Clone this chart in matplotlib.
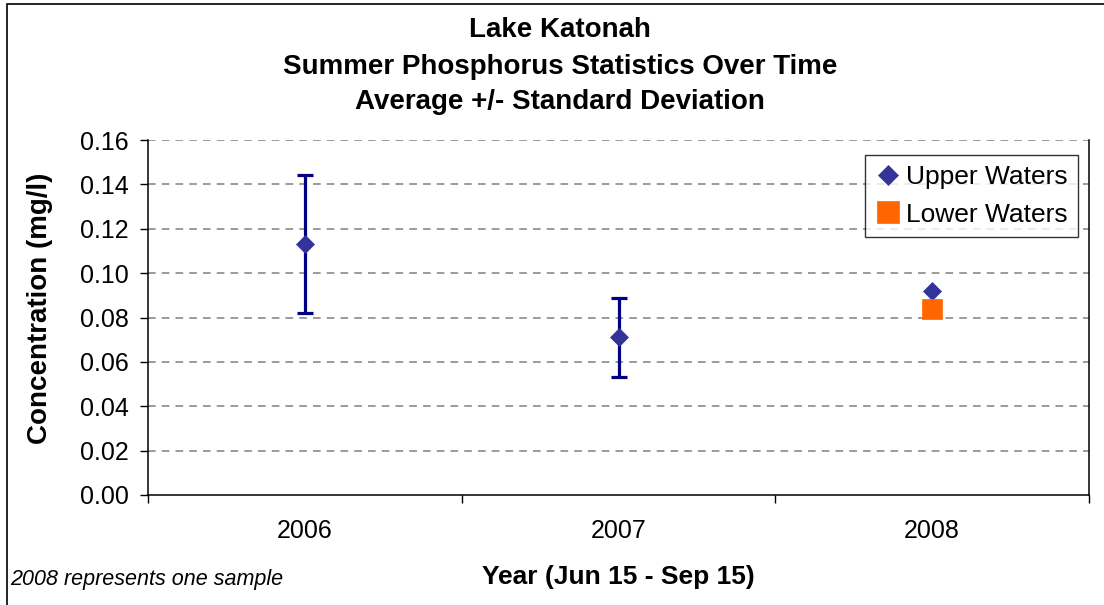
import numpy as np
import matplotlib
matplotlib.use("Agg")
import matplotlib.pyplot as plt
from matplotlib.patches import Rectangle

plt.rcParams['font.family'] = ['Liberation Sans', 'DejaVu Sans']

# ---- data ----
years = ['2006', '2007', '2008']
upper_mean = [0.113, 0.071, 0.092]
upper_sd = [0.031, 0.0176, 0.0]
lower_mean = [np.nan, np.nan, 0.084]
yticks = [0.00, 0.02, 0.04, 0.06, 0.08, 0.10, 0.12, 0.14, 0.16]
title_lines = ['Lake Katonah', 'Summer Phosphorus Statistics Over Time',
               'Average +/- Standard Deviation']

W, H = 1104, 605
fig = plt.figure(figsize=(W / 100, H / 100), dpi=100)
ax = fig.add_axes([148 / W, 1 - 495 / H, (1089 - 148) / W, (495 - 140) / H])

x = np.arange(len(years))
has_err = np.array(upper_sd) > 0
ax.errorbar(x[has_err], np.array(upper_mean)[has_err], yerr=np.array(upper_sd)[has_err],
            fmt='none', ecolor='#000080', elinewidth=2.3, capsize=6, capthick=2.3, zorder=3)
ax.plot(x, upper_mean, linestyle='none', marker='D', markersize=9.5, color='#333399',
        markeredgecolor='#333399', markeredgewidth=0.5, zorder=4, label='Upper Waters')
ax.plot(x, lower_mean, linestyle='none', marker='s', markersize=15, color='#FF6600',
        markeredgecolor='#FF6600', markeredgewidth=0.5, zorder=4, label='Lower Waters')

ax.set_xlim(-0.5, len(years) - 0.5)
ax.set_ylim(0, 0.16)
ax.set_yticks(yticks)
ax.set_yticklabels([f'{v:.2f}' for v in yticks], fontsize=18)
ax.set_xticks(x)
ax.set_xticklabels(years, fontsize=18)
ax.set_xticks(np.arange(-0.5, len(years)), minor=True)
ax.tick_params(axis='x', which='major', length=0, pad=17)
ax.tick_params(axis='x', which='minor', length=6, width=1, direction='out', color='black')
ax.tick_params(axis='y', length=6, width=1, direction='out', pad=8)

for v in yticks[1:]:
    ax.axhline(v, color='#808080', linewidth=1.1, linestyle=(0, (5, 4)), zorder=1)

for s in ['left', 'bottom', 'right']:
    ax.spines[s].set_color('black')
    ax.spines[s].set_linewidth(1.1)
ax.spines['top'].set_visible(False)

leg = ax.legend(loc='upper right', bbox_to_anchor=(0.9885, 0.958), borderaxespad=0,
                fontsize=19, frameon=True, fancybox=False, edgecolor='black',
                handlelength=0.9, handletextpad=0.25, labelspacing=0.5, borderpad=0.4,
                markerscale=1.05)
leg.get_frame().set_linewidth(1.0)

# titles
for line, yc in zip(title_lines, [30, 67, 102]):
    fig.text(560 / W, 1 - yc / H, line, ha='center', va='center', fontsize=20,
             fontweight='bold')

fig.text(40 / W, 1 - 308 / H, 'Concentration (mg/l)', rotation=90, ha='center',
         va='center', fontsize=20, fontweight='bold')
fig.text(618 / W, 1 - 577 / H, 'Year (Jun 15 - Sep 15)', ha='center', va='center',
         fontsize=19, fontweight='bold')
fig.text(10 / W, 1 - 579 / H, '2008 represents one sample', ha='left', va='center',
         fontsize=15.5, style='italic')

# outer border (left and top edges visible)
fig.add_artist(Rectangle((7 / W, -0.1), 1.2, 1 - 4 / H + 0.1, transform=fig.transFigure,
                         fill=False, edgecolor='black', linewidth=1.2))

fig.savefig('out.png', dpi=100)
